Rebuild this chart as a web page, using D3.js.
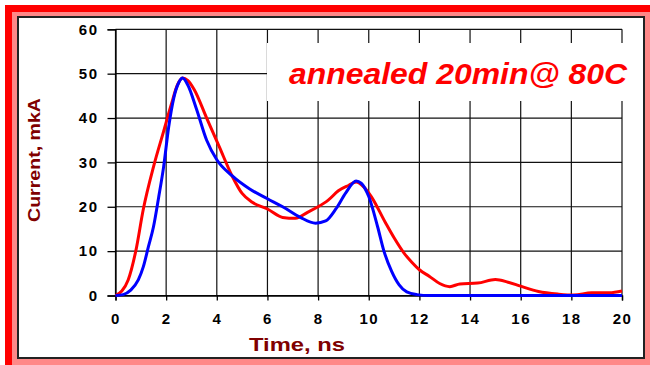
<!DOCTYPE html>
<html>
<head>
<meta charset="utf-8">
<script src="https://cdn.jsdelivr.net/npm/d3@7"></script>
<style>
  body { margin: 0; background: #fff; }
  text { font-family: "Liberation Sans", Arial, sans-serif; }
</style>
</head>
<body>
<script>
// measured pulse, red and blue traces (time ns, current mkA)
var redTime = [0, 0.25, 0.5, 0.8, 1.1, 1.5, 1.9, 2.2, 2.45, 2.65, 2.85, 3.1, 3.6, 4.1, 4.6, 5.0, 5.4, 6.0, 6.6, 7.1, 7.6, 8.0, 8.4, 8.8, 9.2, 9.5, 9.8, 10.1, 10.65, 11.0, 11.4, 11.7, 12.0, 12.4, 12.8, 13.2, 13.6, 14.3, 15.0, 15.5, 16.0, 16.7, 17.5, 18.1, 18.8, 19.5, 20];
var redCurrent = [0, 1, 3.5, 10, 19.5, 29, 37, 43, 47.5, 49, 48.5, 46.5, 40, 33.5, 27, 23, 21, 19.5, 17.6, 17.4, 18.8, 20, 21.5, 23.6, 24.8, 25.6, 24.5, 22.3, 16.5, 13, 9.5, 7.5, 5.8, 4.3, 2.7, 2.0, 2.6, 2.8, 3.6, 3.0, 2.1, 0.9, 0.3, 0.1, 0.6, 0.6, 1.0];

var blueTime = [0, 0.3, 0.6, 0.9, 1.1, 1.3, 1.5, 1.7, 1.9, 2.1, 2.3, 2.5, 2.65, 2.85, 3.2, 3.6, 4.0, 4.6, 5.3, 6.0, 6.6, 7.3, 7.9, 8.3, 8.7, 9.1, 9.5, 9.7, 10.0, 10.35, 10.6, 10.9, 11.2, 11.5, 11.9, 12.4, 20];
var blueCurrent = [0, 0.2, 1.2, 3.5, 6.5, 11, 15.5, 22, 29, 38, 44.5, 48, 49, 47.5, 42, 35, 30.6, 27, 24, 21.8, 20, 17.6, 16.3, 16.8, 19.5, 23.2, 25.8, 25.3, 22.3, 15.5, 10, 5.5, 2.4, 0.8, 0.2, 0, 0];

var xTicks = [0, 2, 4, 6, 8, 10, 12, 14, 16, 18, 20];
var yTicks = [0, 10, 20, 30, 40, 50, 60];

var W = 650, H = 365;
var svg = d3.select("body").append("svg")
  .attr("width", W)
  .attr("height", H);

// frame: red band top/left, pink border, white panel
svg.append("rect").attr("x", 5).attr("y", 5).attr("width", W - 5).attr("height", H - 5).attr("fill", "#ff8888");
svg.append("rect").attr("x", 5).attr("y", 5).attr("width", W - 5).attr("height", 7).attr("fill", "#ff0000");
svg.append("rect").attr("x", 5).attr("y", 5).attr("width", 7).attr("height", H - 5).attr("fill", "#ff0000");
svg.append("rect").attr("x", 18).attr("y", 17).attr("width", 626).attr("height", 341)
  .attr("fill", "#fff").attr("stroke", "#222").attr("stroke-width", 2);

var x = d3.scaleLinear().domain([0, 20]).range([115.5, 622]);
var y = d3.scaleLinear().domain([0, 60]).range([295.5, 29.3]);

// grid
svg.append("g").selectAll("line").data(yTicks).enter().append("line")
  .attr("x1", x(0)).attr("x2", x(20))
  .attr("y1", function(d) { return y(d); }).attr("y2", function(d) { return y(d); })
  .attr("stroke", "#111").attr("stroke-width", 1.2);
svg.append("g").selectAll("line").data(xTicks).enter().append("line")
  .attr("x1", function(d) { return x(d); }).attr("x2", function(d) { return x(d); })
  .attr("y1", y(60)).attr("y2", y(0))
  .attr("stroke", "#111").attr("stroke-width", 1.2);

var yAxis = d3.axisLeft(y).tickValues(yTicks).tickSize(8).tickPadding(9);
var gY = svg.append("g").attr("transform", "translate(" + x(0) + ",0)").call(yAxis);
var xAxis = d3.axisBottom(x).tickValues(xTicks).tickSize(5).tickPadding(13);
var gX = svg.append("g").attr("transform", "translate(0," + y(0) + ")").call(xAxis);
[gX, gY].forEach(function(g) {
  g.select(".domain").attr("stroke", "#000").attr("stroke-width", 1.3);
  g.selectAll(".tick line").attr("stroke", "#000").attr("stroke-width", 1.3);
  g.selectAll("text").attr("font-family", "Liberation Sans, Arial, sans-serif")
    .attr("font-size", 15).attr("font-weight", "bold").attr("fill", "#000")
    .attr("letter-spacing", 1.5);
});

// caption box over the grid
svg.append("rect").attr("x", 267).attr("y", 43).attr("width", 376).attr("height", 58).attr("fill", "#fff");
svg.append("text").attr("x", 289).attr("y", 84)
  .attr("font-size", 29).attr("font-weight", "bold").attr("font-style", "italic")
  .attr("fill", "#ff0000")
  .attr("textLength", 338).attr("lengthAdjust", "spacingAndGlyphs")
  .text("annealed 20min@ 80C");

// curves
var line = d3.line()
  .x(function(d) { return x(d[0]); })
  .y(function(d) { return y(d[1]); })
  .curve(d3.curveMonotoneX);
svg.append("path").datum(d3.zip(redTime, redCurrent))
  .attr("d", line).attr("fill", "none").attr("stroke", "#ff0000").attr("stroke-width", 3);
svg.append("path").datum(d3.zip(blueTime, blueCurrent))
  .attr("d", line).attr("fill", "none").attr("stroke", "#0000ff").attr("stroke-width", 3);

// axis titles
svg.append("text").attr("x", 249).attr("y", 351)
  .attr("font-size", 19).attr("font-weight", "bold").attr("fill", "#800000")
  .attr("textLength", 96).attr("lengthAdjust", "spacingAndGlyphs")
  .text("Time, ns");
svg.append("text").attr("transform", "translate(40,222) rotate(-90)")
  .attr("font-size", 17).attr("font-weight", "bold").attr("fill", "#800000")
  .attr("textLength", 124).attr("lengthAdjust", "spacingAndGlyphs")
  .text("Current, mkA");
</script>
</body>
</html>
